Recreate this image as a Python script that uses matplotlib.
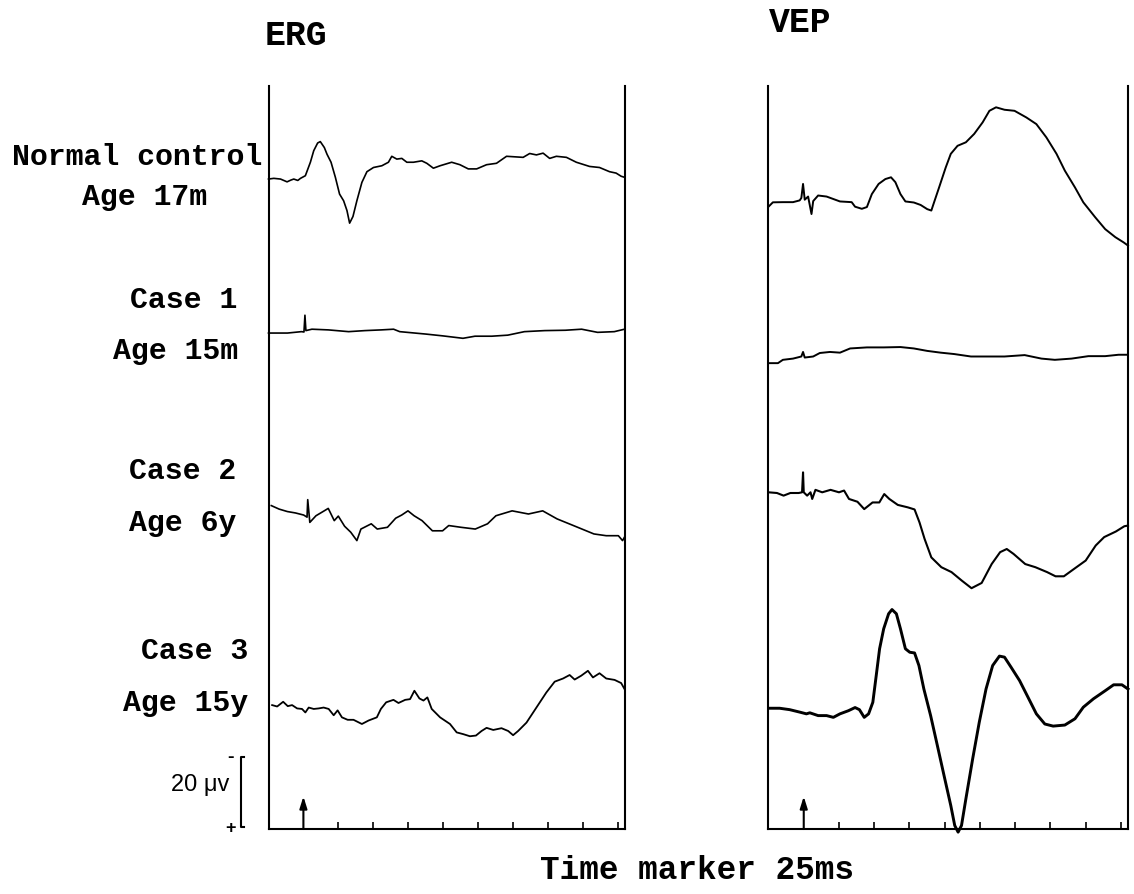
import matplotlib
matplotlib.use("Agg")
import matplotlib.pyplot as plt
from matplotlib.lines import Line2D

# ------------------------------------------------------------------ data
panel_titles = ["ERG", "VEP"]
row_names = ["Normal control", "Case 1", "Case 2", "Case 3"]
row_ages = ["Age 17m", "Age 15m", "Age 6y", "Age 15y"]
stimulus_ms = 25
tick_ms = [50, 75, 100, 125, 150, 175, 200, 225, 250]
sweep_ms = 255
scale_uv = 20
scale_label = "20 \u03bcv"
time_label = "Time marker 25ms"

# traces: (time ms, amplitude uV, upward on page)
erg_normal = [(0, 0), (3.8, 0.2), (8.6, 0), (13.3, -0.8), (16, -0.3), (18.1, 0), (21, -0.4),
              (22.9, 0.2), (26.4, 0.95), (30, 4.8), (32.4, 8.1), (35.2, 10.3), (37.1, 10.7),
              (40, 9.0), (41.9, 7.1), (44.8, 4.8), (47.9, 0.5), (50.9, -4.3), (53.8, -6.2),
              (56.2, -9.0), (58.1, -12.6), (60.5, -10.7), (63.3, -6.2), (66.9, -0.95),
              (70.5, 2.1), (75.2, 3.3), (81.2, 3.8), (85.9, 4.8), (88.3, 6.5), (91.9, 5.7),
              (95.5, 5.9), (99.1, 4.8), (103.8, 4.8), (109.8, 5.2), (113.4, 4.5), (118.1, 3.1),
              (122.9, 3.8), (131.2, 4.8), (137.1, 4.1), (143.1, 2.9), (149.1, 2.9), (156.2, 4.1),
              (163.3, 4.5), (170.5, 6.5), (182.4, 6.2), (187.1, 7.3), (191.9, 6.9), (196.7, 7.4),
              (201.4, 5.9), (206.2, 6.5), (213.4, 6.2), (220.5, 4.8), (230, 3.6), (237.1, 3.3),
              (244.3, 2.1), (249, 1.7), (252.6, 0.8), (255, 0.5)]
erg_case1 = [(0, 0), (13.6, 0), (23.6, 0.4), (25.4, 0.3), (26.1, 5.1), (26.8, 0.7), (31.1, 1.1),
             (42.9, 0.9), (57.4, 0.4), (69.1, 0.7), (80.7, 0.9), (89.6, 1.1), (94, 0.4),
             (112.9, -0.3), (124.7, -0.8), (139.3, -1.5), (147.9, -0.9), (159.9, -0.9),
             (171.4, -0.6), (183.3, 0.4), (197.9, 0.7), (212.6, 0.8), (224.3, 1.1),
             (235.7, 0.2), (247.7, 0.4), (255, 1.1)]
erg_case2 = [(2, 0.1), (7.6, -0.9), (13.5, -1.6), (19.3, -2.0), (25.2, -2.6), (27.6, -3.2),
             (28.1, 1.8), (29.6, -4.7), (34, -2.8), (39.9, -1.4), (42.8, -0.7), (47.1, -4.2),
             (50, -2.9), (54.5, -5.8), (58.9, -7.5), (63.3, -9.9), (66.2, -6.6), (73.6, -5.1),
             (77.9, -6.6), (85.2, -6.1), (91.1, -3.5), (95.4, -2.6), (99.9, -1.4), (104.3, -2.8),
             (110, -4.2), (117.4, -7.1), (124.7, -7.1), (129.1, -5.6), (137.9, -6.1),
             (148.1, -6.6), (156.9, -5.1), (162.9, -2.8), (174.5, -1.4), (186.2, -2.3),
             (196.4, -1.4), (206.7, -3.7), (218.4, -5.6), (233.1, -8.0), (241.9, -8.5),
             (250.6, -8.5), (253.6, -9.9), (255, -8.9)]
erg_case3 = [(2.6, 0), (6.2, -0.4), (10.5, 0.95), (13.8, -0.3), (16.9, 0), (20.5, -0.95),
             (24, -1.1), (26.4, -2.1), (28.8, -0.7), (32.4, -1.1), (35.9, -0.95), (39.5, -0.7),
             (43.1, -1.1), (46.7, -2.9), (49.5, -1.5), (52.6, -3.5), (56.7, -4.2), (60.9, -4.2),
             (66.9, -5.4), (71.7, -4.4), (77.6, -3.5), (80.5, -1.1), (84.3, 0.8), (89.5, 1.5),
             (93.1, 0.6), (97.9, 1.5), (101.4, 1.7), (104.5, 4.1), (108.1, 1.9), (111, 1.3),
             (113.8, 2.2), (116.9, -1.1), (122.9, -3.5), (130, -5.4), (134.8, -7.8),
             (139.5, -8.3), (144.3, -8.9), (148.6, -8.7), (152.6, -7.4), (156.2, -6.5),
             (161, -7.1), (166.9, -6.6), (171.7, -7.4), (175.2, -8.6), (178.8, -7.4),
             (184.8, -5.0), (191.9, -0.7), (199, 3.6), (205, 6.7), (211, 7.6), (215.7, 8.6),
             (219.3, 7.3), (224, 8.4), (228.8, 9.8), (232.4, 7.9), (237.1, 9.1), (241.9, 7.6),
             (247.9, 7.2), (252.6, 6.3), (255, 4.6)]

vep_normal = [(0, -0.2), (3.1, 1.05), (10.2, 1.1), (17.4, 1.1), (22.1, 1.6), (23.3, 2.3),
              (24.5, 6.3), (25.7, 1.8), (28.1, 2.7), (30.5, -2.3), (31.7, 1.4), (35.2, 3.0),
              (41.2, 2.7), (50.7, 1.3), (59, 1.1), (61.4, -0.2), (66.2, -0.8), (69.8, -0.3),
              (73.3, 3.4), (78.1, 6.3), (82.9, 7.7), (86.9, 8.2), (90, 6.8), (93.6, 3.4),
              (97.1, 1.3), (103.1, 1.0), (107.9, 0.3), (112.6, -0.9), (115.5, -1.3),
              (117.4, 1.0), (121, 5.3), (125.7, 11.0), (129.3, 14.9), (134.1, 17.2),
              (140, 18.2), (145.9, 20.6), (151.9, 23.9), (156.7, 27.2), (161.4, 28.2),
              (167.4, 27.5), (174.5, 27.2), (182.9, 25.3), (190, 23.4), (197.1, 19.6),
              (204.3, 14.9), (210.2, 10.1), (217.4, 5.3), (223.3, 1.05), (231.7, -3.2),
              (238.8, -6.6), (246, -8.9), (251.9, -10.4), (255, -11.3)]
vep_case1 = [(0, 0), (6.7, 0), (10.2, 0.95), (17.4, 1.3), (23.3, 1.9), (24.5, 3.2), (25.7, 1.6),
             (31.7, 1.9), (36.4, 2.9), (43.6, 3.2), (50.7, 3.0), (57.9, 4.2), (69.8, 4.5),
             (81.7, 4.5), (93.6, 4.6), (103.1, 4.2), (112.6, 3.5), (122.1, 3.0), (131.7, 2.6),
             (143.6, 1.9), (155.5, 1.9), (167.4, 1.9), (181.7, 2.3), (193.6, 1.3),
             (203.1, 0.95), (215, 1.3), (226.9, 2.0), (238.8, 2.0), (248.3, 2.4), (255, 2.4)]
vep_case2 = [(0, -0.1), (6, -0.3), (10.7, -1.05), (15.5, -0.3), (21.4, -0.3), (23.8, -0.1),
             (24.5, 5.6), (25, -0.1), (27.4, -1.05), (29.8, -0.1), (31, -2.0), (33.3, 0.6),
             (38.1, -0.1), (44, 0.6), (50, -0.1), (53.6, 0.4), (57.1, -2.0), (63.1, -2.8),
             (67.9, -4.9), (73.8, -3.0), (78.6, -3.0), (82.1, -0.6), (85.7, -2.0), (91.7, -3.7),
             (98.8, -4.4), (103.6, -5.0), (107.1, -8.7), (110.7, -13.4), (115.5, -18.7),
             (122.6, -21.5), (129.8, -22.9), (137, -25.3), (144, -27.5), (151.2, -26.0),
             (158.3, -20.6), (164.3, -17.2), (169, -16.3), (173.8, -17.7), (182.1, -20.6),
             (189.3, -21.5), (197.6, -22.9), (203.6, -24.1), (209.5, -24.1), (216.7, -22.0),
             (225, -19.6), (232.1, -15.3), (238.1, -12.9), (246.4, -11.3), (252.4, -9.8),
             (255, -9.6)]
vep_case3 = [(0.2, -0.1), (7.9, -0.1), (15, -0.5), (22.1, -1.2), (26.9, -1.7), (29.3, -1.4),
             (35.2, -2.2), (41.2, -2.2), (46, -2.7), (50.7, -1.7), (56.7, -0.8), (61.4, 0.1),
             (64.5, -0.5), (67.9, -2.7), (71, -1.7), (74, 1.6), (76.4, 9.2), (78.8, 16.9),
             (81.7, 22.6), (85.2, 26.9), (87.6, 28.1), (90.7, 26.9), (93.6, 22.6), (97.1, 16.9),
             (100.2, 15.9), (103.6, 15.7), (106.7, 12.1), (110.2, 5.4), (115, -2.2),
             (119.8, -10.8), (124.5, -19.3), (129.3, -27.9), (132.1, -33.6), (134.5, -35.5),
             (136.9, -33.6), (140, -26.0), (144.8, -14.6), (149.5, -4.1), (154.3, 5.4),
             (159, 12.1), (163.8, 14.8), (167.4, 14.5), (172.1, 11.6), (178.1, 7.8), (184, 3.1),
             (190, -1.7), (196, -4.6), (201.9, -5.2), (210.2, -4.9), (217.4, -3.1), (223.3, 0.2),
             (230.5, 2.6), (238.8, 4.9), (244.8, 6.6), (250.7, 6.6), (255, 5.4)]

erg_traces = [erg_normal, erg_case1, erg_case2, erg_case3]
vep_traces = [vep_normal, vep_case1, vep_case2, vep_case3]

# ------------------------------------------------------------------ layout (pixels)
W, H = 1134, 895
PX_PER_UV = 3.5
AX_TOP, AX_BOTTOM = 87, 830
erg_x = (268.5, 624.5)
vep_x = (768.5, 1128)
erg_offsets = [185.7, 141.7, 92.3, 35.4]      # baseline of each row, uV above sweep axis
vep_offsets = [178.0, 133.1, 96.3, 34.6]
erg_lw = [1.2, 1.2, 1.2, 1.3]
vep_lw = [1.4, 1.4, 1.5, 2.1]

MONO = ["Liberation Mono", "DejaVu Sans Mono"]
SANS = ["Liberation Sans", "DejaVu Sans"]
LABEL_FS = 21.5

fig = plt.figure(figsize=(W / 100, H / 100), dpi=100)
fig.patch.set_facecolor("white")


def fx(x):
    return x / W


def fy(y):
    return 1 - y / H


def make_panel(xr):
    left, right = xr
    ax = fig.add_axes([fx(left), fy(AX_BOTTOM), (right - left) / W, (AX_BOTTOM - AX_TOP) / H])
    ax.set_xlim(0, sweep_ms)
    ax.set_ylim(0, (AX_BOTTOM - AX_TOP) / PX_PER_UV)
    ax.patch.set_alpha(0)
    ax.spines["top"].set_visible(False)
    for s in ("left", "right", "bottom"):
        ax.spines[s].set_linewidth(1.5)
    ax.set_yticks([])
    ax.set_xticks(tick_ms)
    ax.tick_params(axis="x", direction="in", length=5, width=1.2, labelbottom=False)
    ax.annotate("", xy=(stimulus_ms, 9.3), xytext=(stimulus_ms, 0),
                arrowprops=dict(arrowstyle="-|>,head_length=0.7,head_width=0.22",
                                lw=1.5, color="black", shrinkA=0, shrinkB=0))
    return ax


ax_erg = make_panel(erg_x)
ax_vep = make_panel(vep_x)

for ax, traces, offs, lws in ((ax_erg, erg_traces, erg_offsets, erg_lw),
                              (ax_vep, vep_traces, vep_offsets, vep_lw)):
    for tr, off, lw in zip(traces, offs, lws):
        t = [p[0] for p in tr]
        v = [p[1] + off for p in tr]
        ax.plot(t, v, color="black", lw=lw, solid_joinstyle="round", clip_on=False)

# titles
fig.text(fx(296), fy(45), panel_titles[0], family=MONO, weight="bold", fontsize=25,
         ha="center", va="baseline")
fig.text(fx(800), fy(32), panel_titles[1], family=MONO, weight="bold", fontsize=25,
         ha="center", va="baseline")

# row labels
name_right = [262, 237, 236, 248]
name_y = [165, 308, 479, 659]
age_right = [207, 238, 236, 248]
age_y = [205, 359, 531, 711]
for nm, ag, nr, ny, ar, ay in zip(row_names, row_ages, name_right, name_y, age_right, age_y):
    fig.text(fx(nr), fy(ny), nm, family=MONO, weight="bold", fontsize=LABEL_FS,
             ha="right", va="baseline")
    fig.text(fx(ar), fy(ay), ag, family=MONO, weight="bold", fontsize=LABEL_FS,
             ha="right", va="baseline")

# calibration bracket
bx, btop, bbot = 241, 758, 828
fig.add_artist(Line2D([fx(bx + 3), fx(bx), fx(bx), fx(bx + 3)],
                      [fy(btop), fy(btop), fy(bbot), fy(bbot)], color="black", lw=1.5))
fig.text(fx(230), fy(757), "-", family=SANS, weight="bold", fontsize=14, ha="center", va="center")
fig.text(fx(231), fy(829), "+", family=SANS, weight="bold", fontsize=13, ha="center", va="center")
fig.text(fx(229), fy(791), scale_label, family=SANS, fontsize=17, ha="right", va="baseline")

# time marker caption
fig.text(fx(697), fy(879), time_label, family=MONO, weight="bold", fontsize=23.5,
         ha="center", va="baseline")

fig.savefig("out.png", dpi=100, facecolor="white")
